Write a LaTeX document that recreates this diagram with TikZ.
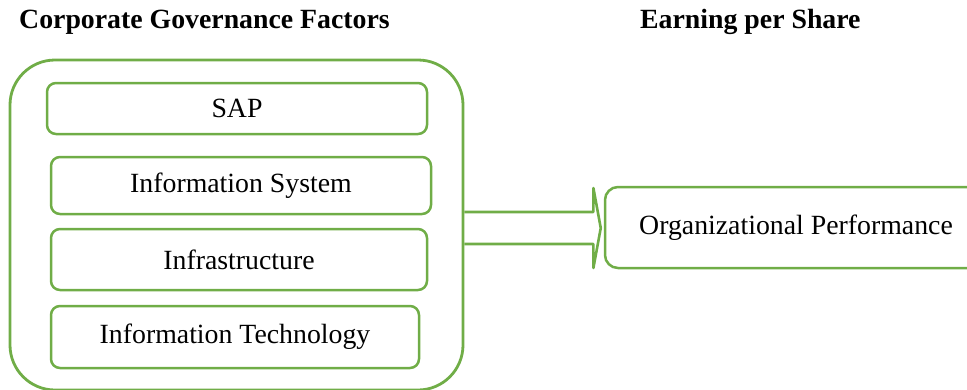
\documentclass[tikz,border=0pt]{standalone}
\usepackage{fontspec}
\setmainfont{Liberation Serif}
\usetikzlibrary{calc}
\definecolor{offgreen}{HTML}{70AD47}
\begin{document}
\begin{tikzpicture}[x=1pt,y=-1pt,
  itembox/.style={draw=offgreen,line width=2.5pt,rounded corners=9pt,inner sep=0pt,
    font=\fontsize{27.8}{30}\selectfont},
  heading/.style={font=\bfseries\fontsize{27.8}{30}\selectfont,anchor=base west,inner sep=0pt}]
\useasboundingbox (0,0) rectangle (967,389);
\begin{scope}
\clip (0,0) rectangle (967,389);
\node[heading] (hcg) at (19,28) {Corporate Governance Factors};
\node[heading] (heps) at (640,28) {Earning per Share};
\node[draw=offgreen,line width=2.8pt,rounded corners=45pt,minimum width=453pt,minimum height=330pt,inner sep=0pt] (outer) at (236.5,225) {};
\node[itembox,minimum width=380pt,minimum height=51pt] (sap) at (237,108.5) {SAP};
\node[itembox,minimum width=380pt,minimum height=57pt] (is) at (241,185.5) {Information System};
\node[itembox,minimum width=376pt,minimum height=61pt] (infra) at (239,259.5) {Infrastructure};
\node[itembox,minimum width=368pt,minimum height=62pt] (it) at (235,337) {Information Technology};
\node[itembox,rounded corners=13pt,minimum width=382pt,minimum height=81pt] (org) at (796,227.5) {Organizational Performance};
\draw[offgreen,line width=2.6pt,line join=round]
  ($(outer.east)+(0,-13)$) -- ++(129,0) -- ++(0,-24) -- ($(org.west)+(-3,0.5)$)
  -- ($(outer.east)+(129,43)$) -- ++(0,-24) -- ($(outer.east)+(0,19)$);
\end{scope}
\end{tikzpicture}
\end{document}
